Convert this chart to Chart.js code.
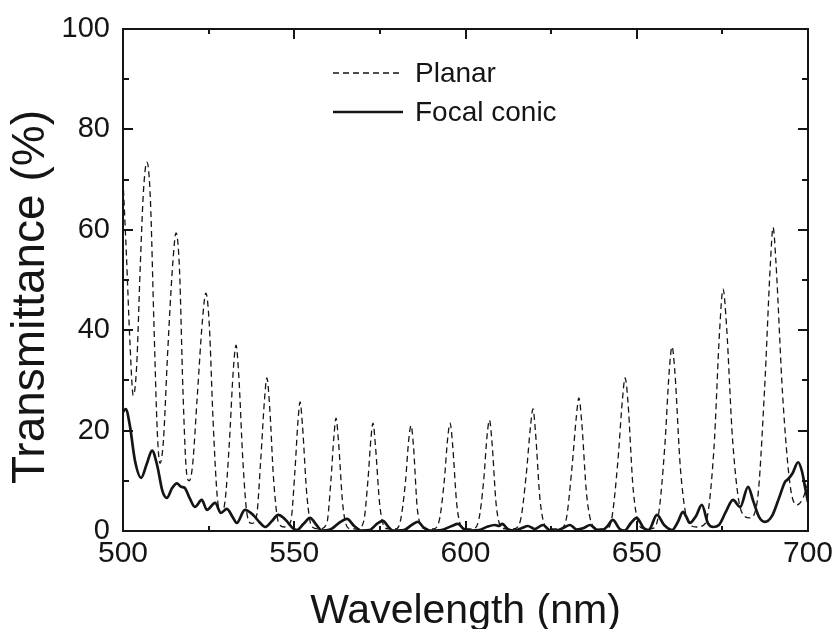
<!DOCTYPE html>
<html>
<head>
<meta charset="utf-8">
<title>Transmittance</title>
<script src="https://cdn.jsdelivr.net/npm/chart.js@4.4.1/dist/chart.umd.min.js"></script>
<style>
  html, body { margin: 0; padding: 0; background: #fff; }
  #wrap { width: 835px; height: 629px; }
</style>
</head>
<body>
<div id="wrap"><canvas id="spectrum" width="835" height="629"></canvas></div>
<script>

// data

var planarNm = [500, 501, 502, 503, 504, 505, 506, 507, 508, 509, 510, 510.8,
  511.8, 513, 514.5, 515.5, 516.5, 517.5, 518.5, 519.3,
  520.3, 521.7, 523.2, 524.2, 525.2, 526.3, 527.5, 528.5,
  529.8, 531, 532.2, 533, 533.8, 535, 536.3, 537.6,
  539, 540.2, 541.3, 542, 542.8, 544, 545.5, 547.2,
  549, 550.2, 551.1, 551.7, 552.4, 553.7, 555.2, 557.5,
  559.5, 560.7, 561.6, 562.2, 562.9, 564.2, 566, 568.5,
  570.3, 571.5, 572.4, 573, 573.7, 575, 576.8, 579.5,
  581, 582.5, 583.4, 584.1, 584.8, 586, 588, 590.5,
  592.3, 593.8, 594.8, 595.5, 596.2, 597.5, 599.5, 602,
  603.8, 605.3, 606.3, 607, 607.7, 609, 611, 614,
  616, 617.7, 619, 619.7, 620.4, 621.8, 624, 627.5,
  629.3, 631, 632.4, 633.1, 633.9, 635.4, 637.8, 641,
  642.7, 644.5, 645.8, 646.6, 647.4, 649, 651.5, 654.5,
  656.3, 658.2, 659.5, 660.3, 661.1, 662.8, 665.2, 667.5,
  670, 672.5, 674.2, 675.2, 676.2, 678, 680.5, 683,
  685.2, 687.3, 689, 689.8, 690.6, 692.6, 694.8, 696.8, 698.5, 700];

var planarT = [70, 55, 38, 27, 33, 52, 68, 73.5, 66, 42, 20, 13.5,
  18, 35, 53, 59.4, 52, 28, 12, 10,
  13, 27, 42, 47.4, 41, 22, 7, 3.6,
  6, 17, 32, 37, 31, 14, 3, 1.5,
  3, 14, 26, 30.5, 25, 10, 1.5, 0.8,
  2, 12, 22, 25.7, 21, 7, 0.8, 0.4,
  1.5, 10, 19, 22.5, 18, 5, 0.5, 0.4,
  2, 10, 18.5, 21.5, 17, 5, 0.5, 0.4,
  2, 10, 18, 21, 17, 4, 0.5, 0.4,
  2, 10, 18.5, 21.5, 17.5, 5, 0.5, 0.4,
  2, 10, 19, 22.1, 18, 5, 0.5, 0.4,
  2, 11, 21, 24.3, 20, 6, 0.5, 0.4,
  2, 12, 23, 26.5, 22, 7, 0.6, 0.4,
  2.5, 14, 26, 30.5, 26, 8, 0.6, 0.5,
  3, 17, 32, 36.7, 32, 12, 1.5, 0.8,
  1.5, 16, 40, 48.2, 41, 18, 4, 2.6,
  6, 28, 53, 60.5, 54, 27, 9, 5.2, 6.5, 9.6];

var focalNm = [500, 500.8, 502, 503.5, 505.3, 507, 508.5, 510, 511.5, 512.8,
  514.3, 515.7, 517, 518, 519.5, 521, 523, 524.5, 526.9, 528.6,
  530.3, 532, 533.2, 535.6, 538, 539.8, 541.5, 543.5, 545.3, 547.5,
  549.5, 550.8, 552.8, 554.6, 556.5, 558, 560.5, 563.5, 565.4, 567.5,
  569.5, 572, 574.3, 575.9, 577.5, 578.8, 582, 584.5, 586.1, 587.8,
  589.5, 593, 596, 597.8, 599.5, 601.5, 604, 606.5, 608.6, 609.8,
  610.7, 612.5, 614.5, 616.5, 618.2, 620.2, 622.6, 624.5, 626.5, 628.8,
  630.5, 632.5, 634.5, 636.4, 638.2, 640, 641.5, 643, 645, 646.5,
  648.3, 650, 652, 653.5, 655.9, 658, 660.3, 662, 663.5, 664.5,
  665.5, 667.3, 669, 670.8, 672.3, 674, 676, 678.1, 680.2, 682.5,
  684, 685.7, 687.4, 689.5, 691.5, 693.3, 694, 695.5, 697.1, 698.2, 699.2, 700];

var focalT = [23.7, 24.3, 21, 14, 10.6, 13.5, 16, 13, 8, 6.6,
  8.5, 9.5, 8.8, 8.6, 6.5, 4.8, 6.2, 4.2, 5.6, 3.6,
  4.4, 2.8, 1.6, 4.2, 3.2, 1.8, 0.8, 2, 3.2, 2.2,
  0.6, 0.2, 1.5, 2.6, 1.2, 0.1, 0.3, 1.8, 2.4, 1,
  0.1, 0.2, 1.5, 2, 0.8, 0.1, 0.2, 1.3, 1.8, 0.7,
  0.1, 0.2, 1, 1.4, 0.4, 0.1, 0.2, 0.9, 1.2, 1,
  1.4, 0.3, 0.1, 0.6, 1, 0.4, 1.2, 0.2, 0.1, 0.7,
  1.2, 0.3, 0.6, 1.2, 0.3, 0.2, 1, 2.2, 0.4, 0.1,
  1.6, 2.6, 0.6, 0.2, 3.2, 1.2, 0.2, 1.8, 3.8, 2.8,
  1.6, 3, 5.2, 1.5, 0.8, 1.2, 3.8, 6.2, 4.8, 8.8,
  6, 2.8, 1.8, 3, 6.5, 9.8, 10.2, 11.5, 13.7, 12, 8.5, 5.8];

var seriesNames = ['Planar', 'Focal conic'];
var yTitle = 'Transmittance (%)';

var xTicks = [500, 550, 600, 650, 700];
var yTicks = [0, 20, 40, 60, 80, 100];

var ink = '#151515';
var font = '"Liberation Sans", Arial, sans-serif';

function pairs(xs, ys) {
  return xs.map(function (v, i) { return { x: v, y: ys[i] }; });
}

//
// frame with inward ticks on all four sides
//
var frame = {
  id: 'frame',
  afterDatasetsDraw: function (chart) {
    var ctx = chart.ctx, a = chart.chartArea;
    var xs = chart.scales.x, ys = chart.scales.y;
    var xStep = (xTicks[1] - xTicks[0]) / 2, yStep = (yTicks[1] - yTicks[0]) / 2;
    ctx.save();
    ctx.strokeStyle = ink;
    ctx.lineWidth = 2;
    ctx.strokeRect(a.left, a.top, a.right - a.left, a.bottom - a.top);
    ctx.beginPath();
    for (var v = xTicks[0]; v <= xTicks[xTicks.length - 1]; v += xStep) {
      var px = Math.round(xs.getPixelForValue(v));
      var len = xTicks.indexOf(v) >= 0 ? 10 : 5;
      ctx.moveTo(px, a.bottom); ctx.lineTo(px, a.bottom - len);
      ctx.moveTo(px, a.top); ctx.lineTo(px, a.top + len);
    }
    for (var w = yTicks[0]; w <= yTicks[yTicks.length - 1]; w += yStep) {
      var py = Math.round(ys.getPixelForValue(w));
      var l2 = yTicks.indexOf(w) >= 0 ? 10 : 6;
      ctx.moveTo(a.left, py); ctx.lineTo(a.left + l2, py);
      ctx.moveTo(a.right, py); ctx.lineTo(a.right - l2, py);
    }
    ctx.stroke();
    ctx.restore();
  }
};

//
// y title, sits a bit below the middle like the original
//
var sideTitle = {
  id: 'sideTitle',
  afterDraw: function (chart) {
    var ctx = chart.ctx;
    ctx.save();
    ctx.translate(31, 297);
    ctx.rotate(-Math.PI / 2);
    ctx.font = '46px ' + font;
    ctx.fillStyle = ink;
    ctx.textAlign = 'center';
    ctx.textBaseline = 'middle';
    ctx.fillText(yTitle, 0, 0);
    ctx.restore();
  }
};

//
// legend inside the plot, stacked
//
var innerLegend = {
  id: 'innerLegend',
  afterDraw: function (chart) {
    var ctx = chart.ctx, a = chart.chartArea;
    ctx.save();
    ctx.font = '28px ' + font;
    ctx.fillStyle = ink;
    ctx.textBaseline = 'middle';
    chart.data.datasets.forEach(function (ds, i) {
      var y = a.top + 44 + i * 39;
      var x0 = a.left + 210;
      ctx.strokeStyle = ds.borderColor;
      ctx.lineWidth = ds.borderWidth;
      ctx.setLineDash(ds.borderDash || []);
      ctx.beginPath();
      ctx.moveTo(x0, y); ctx.lineTo(x0 + 70, y);
      ctx.stroke();
      ctx.fillText(ds.label, x0 + 82, y + 1);
    });
    ctx.restore();
  }
};

var ctx = document.getElementById('spectrum').getContext('2d');
var chart = new Chart(ctx, {
  type: 'line',
  data: {
    datasets: [{
      label: seriesNames[0],
      data: pairs(planarNm, planarT),
      borderColor: ink,
      borderWidth: 1.3,
      borderDash: [6, 4],
      cubicInterpolationMode: 'monotone',
      pointRadius: 0,
      fill: false
    }, {
      label: seriesNames[1],
      data: pairs(focalNm, focalT),
      borderColor: ink,
      borderWidth: 2.7,
      cubicInterpolationMode: 'monotone',
      pointRadius: 0,
      fill: false
    }]
  },
  options: {
    responsive: false,
    animation: false,
    devicePixelRatio: 1,
    layout: { padding: { top: 29, right: 27, left: 0, bottom: 0 } },
    plugins: {
      legend: { display: false },
      tooltip: { enabled: false }
    },
    scales: {
      x: {
        type: 'linear',
        min: xTicks[0],
        max: xTicks[xTicks.length - 1],
        grid: { display: false, drawTicks: false },
        border: { display: false },
        ticks: {
          stepSize: xTicks[1] - xTicks[0],
          color: ink,
          padding: 8,
          font: { family: font, size: 30, lineHeight: 1 },
          maxRotation: 0
        },
        title: {
          display: true,
          text: 'Wavelength (nm)',
          color: ink,
          font: { family: font, size: 41, lineHeight: 1 },
          padding: { top: 0, bottom: -3 }
        },
        afterFit: function (s) { s.height = 98; s.paddingLeft = 0; s.paddingRight = 0; }
      },
      y: {
        type: 'linear',
        min: yTicks[0],
        max: yTicks[yTicks.length - 1],
        grid: { display: false, drawTicks: false },
        border: { display: false },
        ticks: {
          stepSize: yTicks[1] - yTicks[0],
          color: ink,
          padding: 13,
          font: { family: font, size: 29, lineHeight: 1 }
        },
        title: { display: false },
        afterFit: function (s) { s.width = 123; s.paddingTop = 0; s.paddingBottom = 0; }
      }
    }
  },
  plugins: [frame, sideTitle, innerLegend]
});

</script>
</body>
</html>
